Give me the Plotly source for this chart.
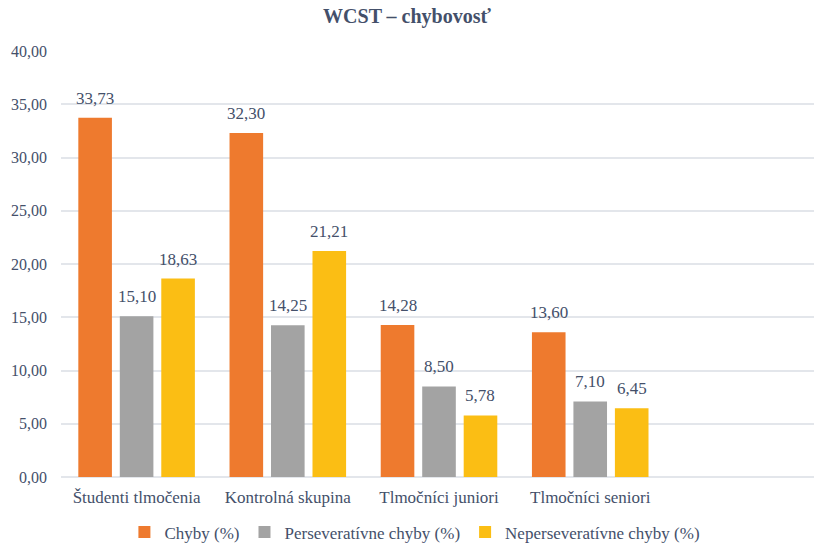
import plotly.graph_objects as go

# WCST error rates per group
categories = ["Študenti tlmočenia", "Kontrolná skupina", "Tlmočníci juniori", "Tlmočníci seniori"]
chyby = [33.73, 32.30, 14.28, 13.60]
perseverativne = [15.10, 14.25, 8.50, 7.10]
neperseverativne = [18.63, 21.21, 5.78, 6.45]
y_ticks = [0, 5, 10, 15, 20, 25, 30, 35, 40]

series = [
    ("Chyby (%)", chyby, "#EE7A2E"),
    ("Perseveratívne chyby (%)", perseverativne, "#A3A3A3"),
    ("Neperseveratívne chyby (%)", neperseverativne, "#FBBE14"),
]

text_color = "#44506A"
font_family = "Liberation Serif, Times New Roman, serif"

W, H = 814, 543
margin = dict(l=61, r=0, t=51, b=66, autoexpand=False)
x_range = [-0.5, 4.48]
bargap = 0.177
bargroupgap = 0.19

fig = go.Figure()
for name, values, color in series:
    fig.add_trace(go.Bar(
        name=name,
        x=categories,
        y=values,
        marker=dict(color=color, line=dict(width=0)),
    ))

# value labels above each bar, lifted a little from the bar top
plot_w = W - margin["l"] - margin["r"]
px_per_cat = plot_w / (x_range[1] - x_range[0])
slot = px_per_cat * (1 - bargap) / len(series)
for i, (name, values, color) in enumerate(series):
    shift = (i - (len(series) - 1) / 2) * slot
    for cat, v in zip(categories, values):
        fig.add_annotation(
            x=cat, y=v, xref="x", yref="y",
            text=f"{v:.2f}".replace(".", ","),
            showarrow=False,
            xshift=shift, yshift=8,
            yanchor="bottom",
            font=dict(family=font_family, size=17, color=text_color),
        )

fig.update_layout(
    width=W,
    height=H,
    margin=margin,
    paper_bgcolor="white",
    plot_bgcolor="white",
    separators=", ",
    barmode="group",
    bargap=bargap,
    bargroupgap=bargroupgap,
    title=dict(
        text="<b>WCST – chybovosť</b>",
        x=0.5, xanchor="center",
        y=1 - 16 / H, yanchor="middle",
        font=dict(family=font_family, size=20, color=text_color),
    ),
    font=dict(family=font_family, size=17, color=text_color),
    legend=dict(
        orientation="h",
        x=0.47, xanchor="center",
        y=-0.13, yanchor="middle",
        font=dict(family=font_family, size=17, color=text_color),
        itemwidth=30,
        traceorder="normal",
    ),
    xaxis=dict(
        type="category",
        range=x_range,
        showgrid=False,
        showline=False,
        ticks="",
        ticklabelstandoff=8,
        tickfont=dict(family=font_family, size=17, color=text_color),
    ),
    yaxis=dict(
        range=[0, 40],
        tickvals=y_ticks,
        tickformat=".2f",
        showgrid=True,
        gridcolor="#E3E6EB",
        gridwidth=1.5,
        zeroline=True,
        zerolinecolor="#E3E6EB",
        zerolinewidth=1.5,
        ticks="",
        ticklabelstandoff=13,
        tickfont=dict(family=font_family, size=16, color=text_color),
    ),
)

fig.write_html("out.html")
